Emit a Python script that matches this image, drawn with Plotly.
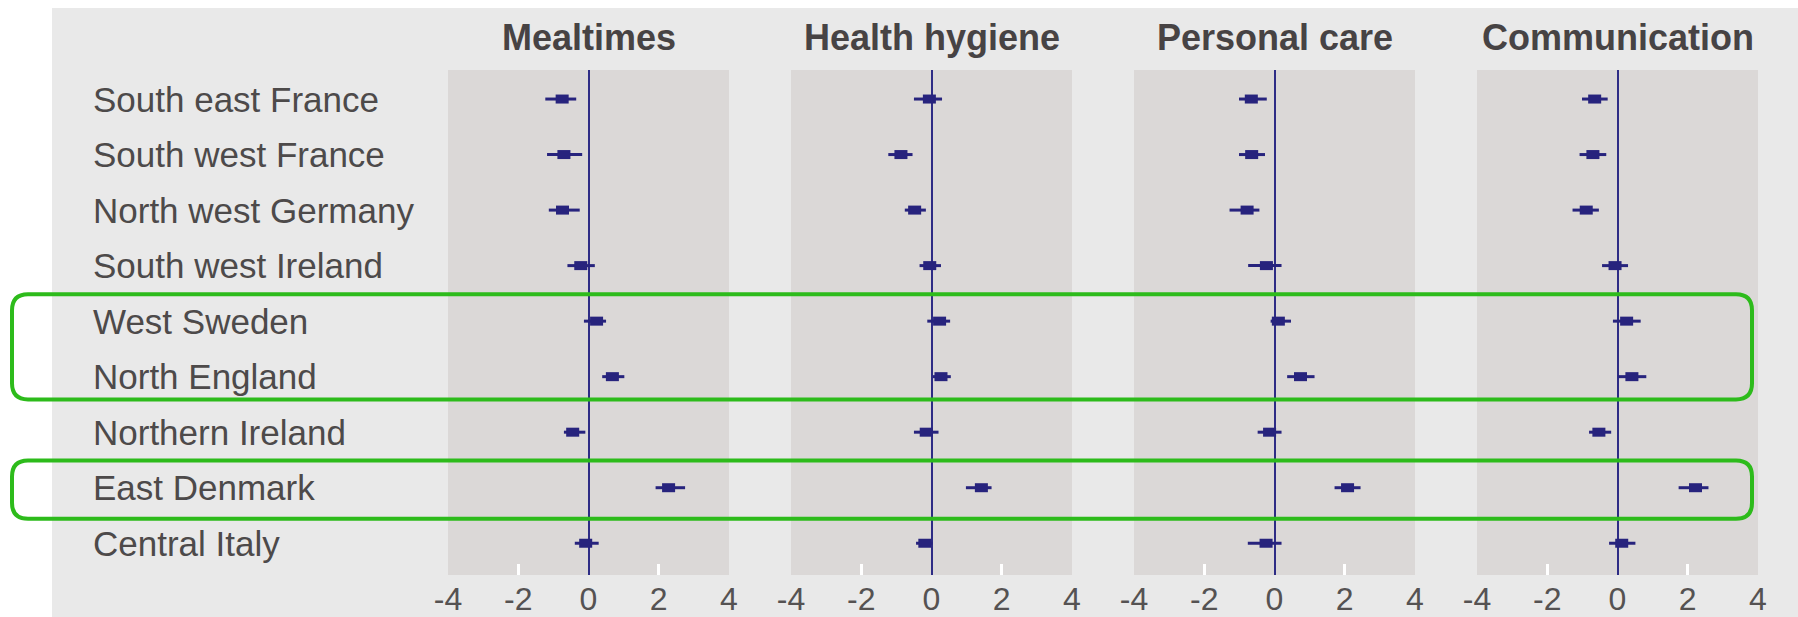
import plotly.graph_objects as go

# ---- data -----------------------------------------------------------------
regions = [
    "South east France", "South west France", "North west Germany",
    "South west Ireland", "West Sweden", "North England",
    "Northern Ireland", "East Denmark", "Central Italy",
]
domains = ["Mealtimes", "Health hygiene", "Personal care", "Communication"]

mealtimes_est = [-0.75, -0.70, -0.74, -0.22, 0.23, 0.68, -0.45, 2.28, -0.08]
mealtimes_lo = [-1.23, -1.18, -1.13, -0.60, -0.13, 0.39, -0.70, 1.91, -0.39]
mealtimes_hi = [-0.35, -0.18, -0.25, 0.18, 0.50, 1.02, -0.09, 2.75, 0.29]

hygiene_est = [-0.06, -0.87, -0.48, -0.05, 0.23, 0.27, -0.15, 1.42, -0.19]
hygiene_lo = [-0.50, -1.23, -0.76, -0.34, -0.12, 0.04, -0.50, 0.98, -0.44]
hygiene_hi = [0.30, -0.54, -0.16, 0.27, 0.53, 0.55, 0.20, 1.71, 0.03]

personal_est = [-0.66, -0.65, -0.78, -0.23, 0.11, 0.74, -0.14, 2.08, -0.24]
personal_lo = [-1.01, -1.01, -1.28, -0.75, -0.11, 0.36, -0.48, 1.71, -0.76]
personal_hi = [-0.22, -0.27, -0.43, 0.20, 0.47, 1.14, 0.20, 2.45, 0.20]

communication_est = [-0.65, -0.70, -0.89, -0.07, 0.26, 0.41, -0.53, 2.22, 0.12]
communication_lo = [-1.01, -1.08, -1.28, -0.44, -0.13, 0.01, -0.81, 1.74, -0.24]
communication_hi = [-0.28, -0.32, -0.53, 0.30, 0.66, 0.82, -0.18, 2.59, 0.51]

tick_vals = [-4, -2, 0, 2, 4]
tick_text = ["-4", "-2", "0", "2", "4"]

# highlighted region groups (first row, last row)
highlight_groups = [("West Sweden", "North England"), ("East Denmark", "East Denmark")]

# ---- styling --------------------------------------------------------------
W, H = 1798, 617
NAVY = "#27237d"
ZERO = "#2e2c85"
PANEL = "#dbd8d7"
OUTER = "#e9e9e9"
GREEN = "#2dbb1b"
TEXT = "#4d4a4a"
TITLE = "#474344"

panel_left_px = [448, 791, 1134, 1477]
panel_w_px = 281
plot_top_px, plot_bot_px = 70, 575

series = [
    (mealtimes_est, mealtimes_lo, mealtimes_hi),
    (hygiene_est, hygiene_lo, hygiene_hi),
    (personal_est, personal_lo, personal_hi),
    (communication_est, communication_lo, communication_hi),
]

rows = list(range(len(regions)))

fig = go.Figure()

for i, (est, lo, hi) in enumerate(series):
    ax = "x" if i == 0 else f"x{i + 1}"
    fig.add_trace(go.Scatter(
        x=est, y=rows, xaxis=ax, yaxis="y", mode="markers",
        marker=dict(symbol="line-ew", size=9.3, color=NAVY,
                    line=dict(width=9, color=NAVY)),
        error_x=dict(type="data", symmetric=False,
                     array=[h - e for h, e in zip(hi, est)],
                     arrayminus=[e - l for e, l in zip(est, lo)],
                     thickness=3, width=0, color=NAVY),
        hoverinfo="skip", showlegend=False,
    ))

layout = dict(
    width=W, height=H, autosize=False,
    margin=dict(l=0, r=0, t=0, b=0, pad=0, autoexpand=False),
    paper_bgcolor=OUTER, plot_bgcolor=PANEL,
    showlegend=False,
    yaxis=dict(domain=[1 - plot_bot_px / H, 1 - plot_top_px / H],
               range=[8.572, -0.523], showticklabels=False, showgrid=False,
               zeroline=False, showline=False, ticks="", fixedrange=True,
               automargin=False),
)

for i, left in enumerate(panel_left_px):
    key = "xaxis" if i == 0 else f"xaxis{i + 1}"
    layout[key] = dict(
        domain=[left / W, (left + panel_w_px) / W],
        range=[-4, 4], anchor="y", automargin=False,
        tickmode="array", tickvals=tick_vals, ticktext=tick_text,
        ticks="outside", ticklen=0, tickcolor="rgba(0,0,0,0)",
        ticklabelstandoff=-4,
        minor=dict(tickmode="array", tickvals=[-2, 2], ticks="inside",
                   ticklen=11, tickwidth=3, tickcolor="white", showgrid=False),
        tickfont=dict(family="Liberation Sans", size=32, color="#555252"),
        showgrid=False, showline=False,
        zeroline=True, zerolinecolor=ZERO, zerolinewidth=1.5,
        fixedrange=True,
    )

fig.update_layout(**layout)

# white margin strips around the light grey backdrop
fig.add_shape(type="rect", xref="paper", yref="paper", x0=0, x1=52 / W, y0=0, y1=1,
              fillcolor="white", line_width=0, layer="below")
fig.add_shape(type="rect", xref="paper", yref="paper", x0=0, x1=1, y0=1 - 8 / H, y1=1,
              fillcolor="white", line_width=0, layer="below")

# panel titles
for i, name in enumerate(domains):
    ax = "x" if i == 0 else f"x{i + 1}"
    fig.add_annotation(text=f"<b>{name}</b>", xref=ax, x=0, yref="paper",
                       y=1 - 37 / H, xanchor="center", yanchor="middle",
                       showarrow=False,
                       font=dict(family="Liberation Sans", size=36, color=TITLE))

# region labels
for r, name in zip(rows, regions):
    fig.add_annotation(text=name, xref="paper", x=91 / W, yref="y", y=r,
                       xanchor="left", yanchor="middle", showarrow=False,
                       font=dict(family="Liberation Sans", size=35, color=TEXT))


def rounded_box(x0, x1, y0, y1, rx, ry):
    return (f"M {x0 + rx},{y0} L {x1 - rx},{y0} Q {x1},{y0} {x1},{y0 + ry} "
            f"L {x1},{y1 - ry} Q {x1},{y1} {x1 - rx},{y1} "
            f"L {x0 + rx},{y1} Q {x0},{y1} {x0},{y1 - ry} "
            f"L {x0},{y0 + ry} Q {x0},{y0} {x0 + rx},{y0} Z")


pads = [(0.485, 0.41), (0.49, 0.56)]
for (first, last), (pt, pb) in zip(highlight_groups, pads):
    r0 = regions.index(first)
    r1 = regions.index(last)
    fig.add_shape(type="path", xref="paper", yref="y",
                  path=rounded_box(12 / W, 1752 / W, r0 - pt, r1 + pb, 16 / W, 0.29),
                  line=dict(color=GREEN, width=4), fillcolor="rgba(0,0,0,0)",
                  layer="above")

# keep the figure flush with the page edges
page_css = ("document.body.style.margin='0';document.body.style.padding='0';"
            "document.documentElement.style.overflow='hidden';")

fig.write_html("out.html", config={"responsive": False, "displayModeBar": False},
               post_script=page_css)
